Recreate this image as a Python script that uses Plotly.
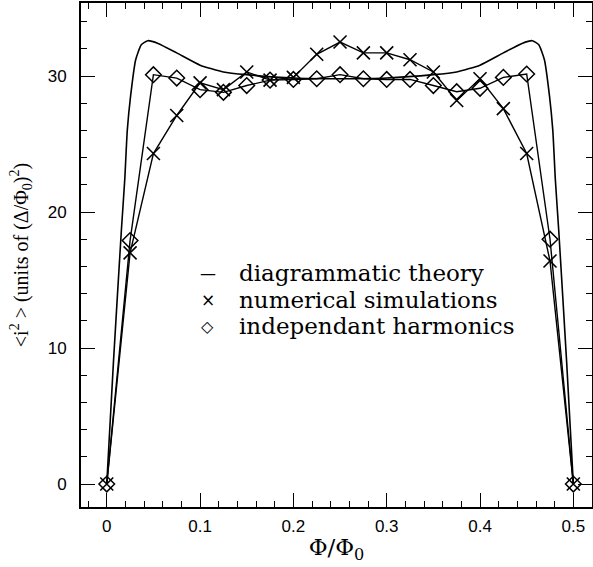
import plotly.graph_objects as go

# ---- data ----
phi = [0, 0.025, 0.05, 0.075, 0.1, 0.125, 0.15, 0.175, 0.2, 0.225, 0.25,
       0.275, 0.3, 0.325, 0.35, 0.375, 0.4, 0.425, 0.45, 0.475, 0.5]
numerical = [0, 17.0, 24.3, 27.1, 29.5, 29.0, 30.3, 29.7, 29.9, 31.6, 32.5,
             31.7, 31.7, 31.2, 30.3, 28.2, 29.8, 27.6, 24.3, 16.4, 0]
harmonics = [0, 17.9, 30.1, 29.85, 29.0, 28.8, 29.3, 29.7, 29.75, 29.8, 30.1,
             29.8, 29.75, 29.75, 29.3, 28.85, 29.1, 29.9, 30.15, 18.0, 0]
theory_x = [0, 0.0072, 0.0157, 0.0193, 0.022, 0.0255, 0.031, 0.037, 0.044,
            0.055, 0.075, 0.1, 0.125, 0.15, 0.2, 0.25,
            0.3, 0.35, 0.375, 0.4, 0.425, 0.445, 0.456, 0.463, 0.469,
            0.4745, 0.478, 0.4807, 0.4843, 0.4928, 0.5]
theory_y = [0, 9.0, 18.7, 22.4, 26.0, 28.5, 31.2, 32.3, 32.6,
            32.4, 31.7, 30.8, 30.3, 30.1, 29.85, 29.8,
            29.85, 30.1, 30.3, 30.8, 31.7, 32.4, 32.6, 32.3, 31.2,
            28.5, 26.0, 22.4, 18.7, 9.0, 0]

x_ticks = [0, 0.1, 0.2, 0.3, 0.4, 0.5]
x_labels = ["0", "0.1", "0.2", "0.3", "0.4", "0.5"]
y_ticks = [0, 10, 20, 30]
y_labels = ["0", "10", "20", "30"]

legend_names = ["diagrammatic theory", "numerical simulations", "independant harmonics"]
legend_symbols = ["—", "×", "◇"]

fig = go.Figure()
fig.add_trace(go.Scatter(x=theory_x, y=theory_y, mode="lines", name=legend_names[0],
                         line=dict(color="black", width=1.6, shape="spline", smoothing=0.5),
                         showlegend=False))
fig.add_trace(go.Scatter(x=phi, y=numerical, mode="lines+markers", name=legend_names[1],
                         line=dict(color="black", width=1.4),
                         marker=dict(symbol="x-thin-open", size=13,
                                     line=dict(color="black", width=1.6)),
                         showlegend=False))
fig.add_trace(go.Scatter(x=phi, y=harmonics, mode="lines+markers", name=legend_names[2],
                         line=dict(color="black", width=1.4),
                         marker=dict(symbol="diamond-open", size=12, color="black",
                                     line=dict(color="black", width=1.5)),
                         showlegend=False))

# legend drawn as text rows inside the plot
row_y = [0.464, 0.411, 0.359]
sym_sizes = [16, 17, 16]
for name, sym, ss, yy in zip(legend_names, legend_symbols, sym_sizes, row_y):
    fig.add_annotation(xref="paper", yref="paper", x=0.248, y=yy, text=sym,
                       showarrow=False, xanchor="center", yanchor="middle",
                       font=dict(family="DejaVu Sans", size=ss, color="black"))
    fig.add_annotation(xref="paper", yref="paper", x=0.306, y=yy, text=name,
                       showarrow=False, xanchor="left", yanchor="middle",
                       font=dict(family="DejaVu Serif", size=23, color="black"))

axis_common = dict(showline=True, linecolor="black", linewidth=1.8, mirror="allticks",
                   ticks="inside", tickcolor="black", tickwidth=1.3, ticklen=14,
                   showgrid=False, zeroline=False, automargin=False,
                   tickfont=dict(family="Liberation Sans, Arial", size=17, color="black"))

fig.update_xaxes(range=[-0.0276, 0.52], tickvals=x_ticks, ticktext=x_labels,
                 ticklabelstandoff=3,
                 minor=dict(dtick=0.02, tick0=0, ticks="inside", ticklen=6,
                            tickcolor="black", tickwidth=1.2),
                 title=dict(text="Φ/Φ<sub>0</sub>",
                            font=dict(family="DejaVu Serif", size=23, color="black"),
                            standoff=4),
                 **axis_common)
fig.update_yaxes(range=[-1.69, 35.37], tickvals=y_ticks, ticktext=y_labels,
                 ticklabelstandoff=9,
                 minor=dict(dtick=2, tick0=0, ticks="inside", ticklen=6,
                            tickcolor="black", tickwidth=1.2),
                 title=dict(text="&lt;i<sup>2</sup> &gt; (units of (Δ/Φ<sub>0</sub>)<sup>2</sup>)",
                            font=dict(family="Liberation Serif", size=20, color="black"),
                            standoff=14),
                 **axis_common)

fig.update_layout(
    width=593, height=567,
    margin=dict(l=81, r=1, t=3, b=60),
    plot_bgcolor="white", paper_bgcolor="white",
    showlegend=False,
)

fig.write_html("out.html", config={"displayModeBar": False},
               post_script="document.body.style.margin='0px';")
